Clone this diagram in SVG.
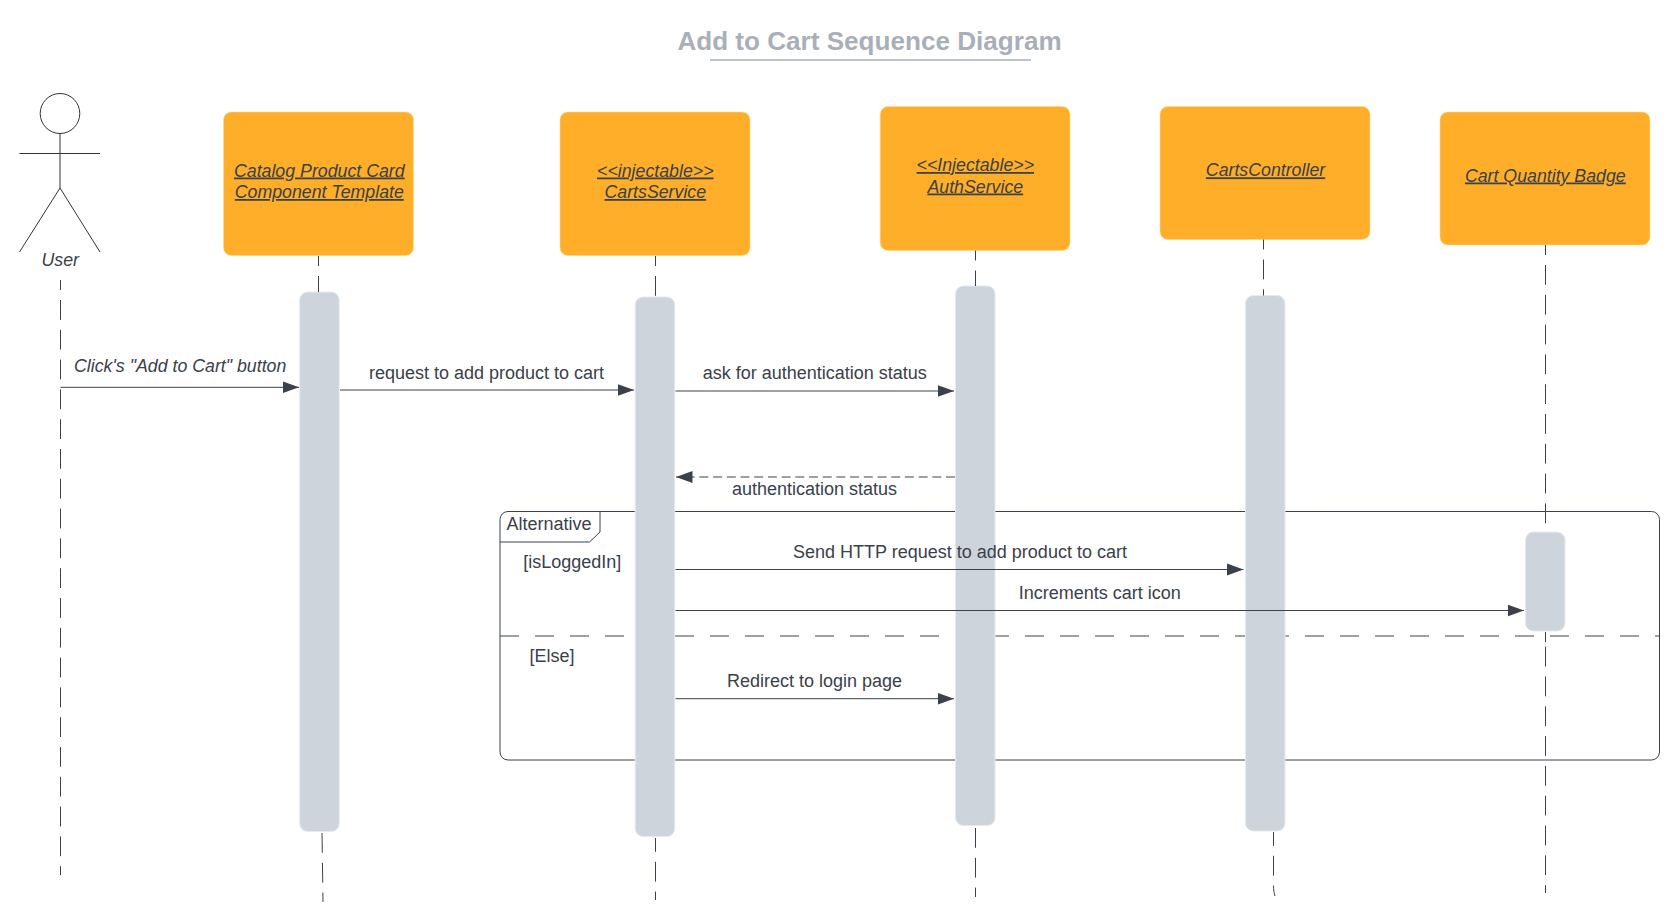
<svg xmlns="http://www.w3.org/2000/svg" width="1680" height="908" viewBox="0 0 1680 908">
<defs>
<style>
text{font-family:"Liberation Sans",Arial,sans-serif;font-size:18px;fill:#3a414a}
.c{text-anchor:middle}
.i{font-style:italic;font-size:17.75px}
.u{font-style:italic;font-size:17.75px;text-decoration:underline;text-anchor:middle}
.title{font-size:26.1px;font-weight:bold;fill:#a9afb9;text-anchor:middle}
.box{fill:#ffae29;stroke:#ffd98f;stroke-width:.6}
.bar{fill:#ced4dc;stroke:#e6e9ee;stroke-width:1}
.ll{fill:none;stroke:#3a414a;stroke-width:1;stroke-dasharray:19.8 10}
.msg{fill:none;stroke:#3a414a;stroke-width:1;marker-end:url(#ah)}
.fr{fill:none;stroke:#3a414a;stroke-width:1}
.st{fill:none;stroke:#333;stroke-width:1}
</style>
<marker id="ah" markerUnits="userSpaceOnUse" markerWidth="17" markerHeight="13" refX="16.500" refY="6.500" orient="auto"><path d="M0 0.500L16.500 6.500L0 12.500Z" fill="#3a414a"/></marker>
</defs>
<rect width="1680" height="908" fill="#fff"/>
<g id="title">
<text class="title" x="869.500" y="50">Add to Cart Sequence Diagram</text>
<line x1="710" y1="60" x2="1031" y2="60" stroke="#a9afb9" stroke-width="1.6"/>
</g>
<g id="frame-alternative">
<rect class="fr" x="500" y="511.500" width="1159.500" height="248.500" rx="8"/>
<path class="fr" d="M500 542H589.500L600 532V511.500"/>
<line class="fr" x1="500" y1="636" x2="1659.500" y2="636" stroke-dasharray="19 16"/>
<text x="506.500" y="529.800">Alternative</text>
<text x="523.200" y="567.800">[isLoggedIn]</text>
<text x="529.500" y="661.800">[Else]</text>
</g>
<g id="actor-user">
<ellipse class="st" cx="60" cy="113.500" rx="19.800" ry="20"/>
<path class="st" d="M60 133.500V188M19.500 153.500H100M60 188L19.500 252M60 188L100 252"/>
<text class="c i" x="60.300" y="266">User</text>
</g>
<g id="node-catalog">
<rect class="box" x="223.500" y="112" width="190" height="143.500" rx="8"/>
<text class="u" x="319.300" y="176.500">Catalog Product Card</text>
<text class="u" x="319.300" y="198">Component Template</text>
</g>
<g id="node-cartsservice">
<rect class="box" x="560" y="112" width="190" height="143.500" rx="8"/>
<text class="u" x="655.300" y="176.500">&lt;&lt;injectable&gt;&gt;</text>
<text class="u" x="655.300" y="198">CartsService</text>
</g>
<g id="node-authservice">
<rect class="box" x="880.200" y="106.500" width="189.800" height="144" rx="8"/>
<text class="u" x="975.300" y="171">&lt;&lt;Injectable&gt;&gt;</text>
<text class="u" x="975.300" y="192.500">AuthService</text>
</g>
<g id="node-cartscontroller">
<rect class="box" x="1160" y="106.500" width="210" height="133" rx="8"/>
<text class="u" x="1265.500" y="176.300">CartsController</text>
</g>
<g id="node-badge">
<rect class="box" x="1440" y="112" width="210" height="133" rx="8"/>
<text class="u" x="1545.300" y="181.500">Cart Quantity Badge</text>
</g>
<g id="activation-catalog"><rect class="bar" x="299.700" y="292" width="39.500" height="539.500" rx="8"/></g>
<g id="activation-cartsservice"><rect class="bar" x="635.200" y="297" width="39.500" height="539.500" rx="8"/></g>
<g id="activation-authservice"><rect class="bar" x="955.500" y="286" width="39.500" height="539.500" rx="8"/></g>
<g id="activation-cartscontroller"><rect class="bar" x="1245.500" y="295.500" width="39.500" height="535.500" rx="8"/></g>
<g id="activation-badge"><rect class="bar" x="1525.500" y="532" width="39.500" height="99" rx="8"/></g>
<g id="connectors">
<path class="ll" d="M60.500 280V875" stroke-dashoffset="9.800"/>
<path class="ll" d="M318.500 256V292" stroke-dashoffset="9.800"/>
<path class="ll" d="M322 833L323 902"/>
<path class="ll" d="M655.500 256V297" stroke-dashoffset="9.800"/>
<path class="ll" d="M655.500 838V900" stroke-dashoffset="6"/>
<path class="ll" d="M975.500 250.500V286" stroke-dashoffset="9.800"/>
<path class="ll" d="M975.500 828V897"/>
<path class="ll" d="M1263.500 239.500V295.500" stroke-dashoffset="9.800"/>
<path class="ll" d="M1273.500 832V885C1273.500 889 1274 893 1275 896" stroke-dashoffset="6"/>
<path class="ll" d="M1545.500 245V532" stroke-dasharray="19.500 10" stroke-dashoffset="9.800"/>
<path class="ll" d="M1545.500 632V642.300" stroke-dashoffset="9.800"/>
<path class="ll" d="M1545.500 646.700V893" stroke-dasharray="19.500 10"/>
<path class="msg" d="M60.500 387.300H299"/>
<text class="i" x="74" y="371.500">Click's "Add to Cart" button</text>
<path class="msg" d="M340 390H634"/>
<text class="c" x="486.500" y="378.500">request to add product to cart</text>
<path class="msg" d="M675.500 391H954"/>
<text class="c" x="814.800" y="379">ask for authentication status</text>
<path class="msg" d="M955 477H676" stroke-dasharray="9 4.700"/>
<text class="c" x="814.500" y="494.800">authentication status</text>
<path class="msg" d="M675.500 569.500H1243.500"/>
<text class="c" x="960" y="557.800">Send HTTP request to add product to cart</text>
<path class="msg" d="M675.500 610.500H1524"/>
<text class="c" x="1099.700" y="598.800">Increments cart icon</text>
<path class="msg" d="M675.500 698.700H954"/>
<text class="c" x="814.500" y="687">Redirect to login page</text>
</g>
</svg>
